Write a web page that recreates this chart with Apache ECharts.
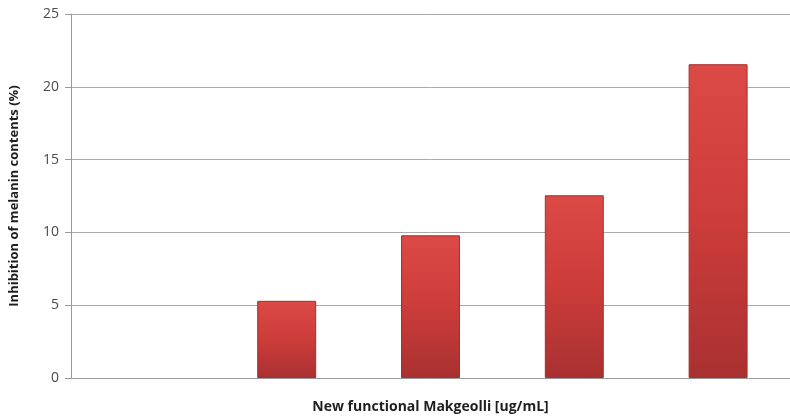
<!DOCTYPE html>
<html>
<head>
<meta charset="utf-8">
<script src="https://cdn.jsdelivr.net/npm/echarts@6/dist/echarts.min.js"></script>
<style>
	html, body { margin: 0; padding: 0; background: #fff; }
	#main { width: 790px; height: 419px; }
</style>
</head>
<body>
<div id="main"></div>
<script>
	// concentrations are not labelled on the original axis
	var categories = ['0', '1', '2', '3', '4'];
	// first group has no visible bar in the original
	var inhibition = ['-', 5.3, 9.8, 12.55, 21.55];
	var yTicks = { min: 0, max: 25, interval: 5 };

	var chart = echarts.init(document.getElementById('main'));
	var option = {
		animation: false,
		textStyle: { fontFamily: 'Open Sans' },
		grid: { left: 69, right: -10, top: 14, bottom: 39 },
		xAxis: {
			type: 'category',
			data: categories,
			name: 'New functional Makgeolli [ug/mL]',
			nameLocation: 'middle',
			nameGap: 22,
			nameTextStyle: { fontSize: 14, fontWeight: 'bold', color: '#1e1e1e' },
			axisLine: { lineStyle: { color: '#9a9a9a' } },
			axisTick: { show: false },
			axisLabel: { show: false }
		},
		yAxis: {
			type: 'value',
			min: yTicks.min,
			max: yTicks.max,
			interval: yTicks.interval,
			name: 'Inhibition of melanin contents (%)',
			nameLocation: 'middle',
			nameGap: 50,
			nameTextStyle: { fontSize: 13, fontWeight: 'bold', color: '#1e1e1e' },
			axisLine: { show: true, lineStyle: { color: '#9a9a9a' } },
			axisTick: { show: true, length: 6, lineStyle: { color: '#9a9a9a' } },
			axisLabel: { fontSize: 14, color: '#4a4a4a', margin: 12 },
			splitLine: { lineStyle: { color: '#aaaaaa' } }
		},
		series: [{
			type: 'bar',
			data: inhibition,
			barWidth: '41%',
			itemStyle: {
				color: new echarts.graphic.LinearGradient(0, 0, 0, 1, [
					{ offset: 0, color: '#dc4a46' },
					{ offset: 0.5, color: '#cc3c3a' },
					{ offset: 1, color: '#a93131' }
				]),
				borderColor: '#a52e2e',
				borderWidth: 1
			}
		}]
	};
	chart.setOption(option);
</script>
</body>
</html>
